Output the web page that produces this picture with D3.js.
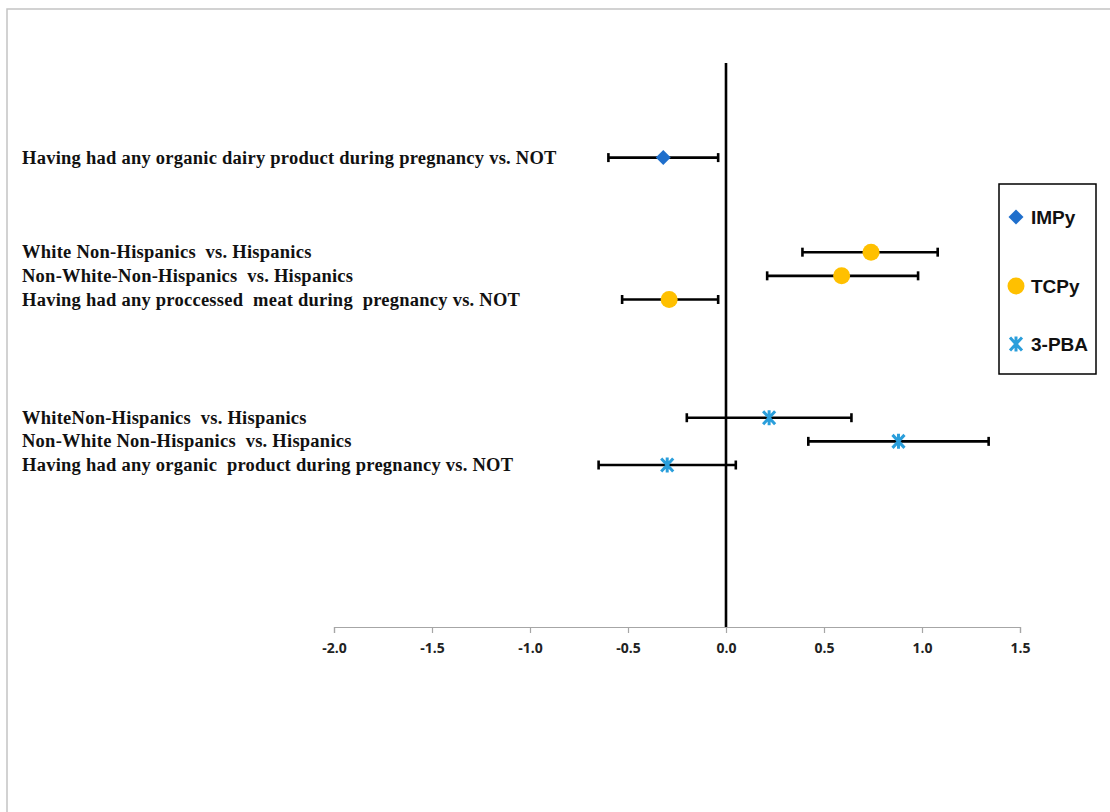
<!DOCTYPE html>
<html>
<head>
<meta charset="utf-8">
<script src="https://cdn.jsdelivr.net/npm/d3@7"></script>
<style>
  html, body { margin: 0; padding: 0; background: #fff; }
  svg { display: block; }
  .lbl { font-family: "Liberation Serif", "Times New Roman", serif; font-weight: bold; font-size: 18.5px; letter-spacing: 0.25px; white-space: pre; fill: #111; }
  .tick-lbl { font-family: "Open Sans", "Liberation Sans", sans-serif; font-weight: bold; font-size: 14px; fill: #222; }
  .leg { font-family: "Liberation Sans", Arial, sans-serif; font-weight: bold; font-size: 19px; fill: #111; }
</style>
</head>
<body>
<svg id="chart" width="1110" height="812"></svg>
<script>
// Data
const labels = [
  "Having had any organic dairy product during pregnancy vs. NOT",
  "White Non-Hispanics  vs. Hispanics",
  "Non-White-Non-Hispanics  vs. Hispanics",
  "Having had any proccessed  meat during  pregnancy vs. NOT",
  "WhiteNon-Hispanics  vs. Hispanics",
  "Non-White Non-Hispanics  vs. Hispanics",
  "Having had any organic  product during pregnancy vs. NOT"
];
const metabolite = ["IMPy", "TCPy", "TCPy", "TCPy", "3-PBA", "3-PBA", "3-PBA"];
const estimate = [-0.32, 0.74, 0.59, -0.29, 0.22, 0.88, -0.30];
const lower    = [-0.60, 0.39, 0.21, -0.53, -0.20, 0.42, -0.65];
const upper    = [-0.04, 1.08, 0.98, -0.04, 0.64, 1.34, 0.05];
const series = ["IMPy", "TCPy", "3-PBA"];
const xTicks = [-2.0, -1.5, -1.0, -0.5, 0.0, 0.5, 1.0, 1.5];

// layout: row slots (gaps between groups like the original)
const slot = [0, 4, 5, 6, 11, 12, 13];

const svg = d3.select("#chart");

// outer frame (left/top edges only visible)
svg.append("path")
    .attr("d", "M7,812 V9 H1110")
    .attr("fill", "none")
    .attr("stroke", "#c4c4c4")
    .attr("stroke-width", 1.5);

const x = d3.scaleLinear().domain([-2, 1.5]).range([334, 1020]);
const y = d3.scaleLinear().domain([-4, 19.85]).range([63, 627]);

const rows = labels.map((l, i) => ({
    label: l, m: metabolite[i], est: estimate[i], lo: lower[i], hi: upper[i], s: slot[i]
}));

const colors = { "IMPy": "#1f6fcc", "TCPy": "#ffc000", "3-PBA": "#2a9edb" };

// x axis
const axisG = svg.append("g").attr("transform", `translate(0,${y(19.85)})`);
axisG.call(d3.axisBottom(x).tickValues(xTicks).tickSize(6));
axisG.select(".domain").attr("stroke", "#a6a6a6").attr("stroke-width", 1.2);
axisG.selectAll(".tick line").attr("stroke", "#a6a6a6").attr("stroke-width", 1.2);
axisG.selectAll(".tick text")
    .attr("class", "tick-lbl")
    .attr("y", 16)
    .text(d => d.toFixed(1));

// zero line
svg.append("line")
    .attr("x1", x(0)).attr("x2", x(0))
    .attr("y1", y(-4)).attr("y2", y(19.85))
    .attr("stroke", "#000").attr("stroke-width", 2.6);

// error bars
const bars = svg.append("g").selectAll("g").data(rows).join("g");
bars.append("line")
    .attr("x1", d => x(d.lo)).attr("x2", d => x(d.hi))
    .attr("y1", d => y(d.s)).attr("y2", d => y(d.s))
    .attr("stroke", "#000").attr("stroke-width", 2.6);
[d => x(d.lo), d => x(d.hi)].forEach(fx => {
    bars.append("line")
        .attr("x1", fx).attr("x2", fx)
        .attr("y1", d => y(d.s) - 4.5).attr("y2", d => y(d.s) + 4.5)
        .attr("stroke", "#000").attr("stroke-width", 2.6);
});

// marker drawing
function drawMarker(g, m) {
    if (m === "IMPy") {
        g.append("path").attr("d", "M0,-7.5 L7.5,0 L0,7.5 L-7.5,0 Z").attr("fill", colors[m]);
    } else if (m === "TCPy") {
        g.append("circle").attr("r", 8.5).attr("fill", colors[m]);
    } else {
        g.append("path")
            .attr("d", "M-6,-6.5 L6,6.5 M6,-6.5 L-6,6.5 M0,-7.5 L0,7.5")
            .attr("stroke", colors[m]).attr("stroke-width", 3).attr("fill", "none");
    }
}

rows.forEach(d => {
    const g = svg.append("g").attr("transform", `translate(${x(d.est)},${y(d.s)})`);
    drawMarker(g, d.m);
});

// row labels
svg.append("g").selectAll("text").data(rows).join("text")
    .attr("class", "lbl")
    .attr("x", 22)
    .attr("y", d => y(d.s))
    .attr("dy", "0.33em")
    .text(d => d.label);

// legend
const leg = svg.append("g");
leg.append("rect")
    .attr("x", 999).attr("y", 184).attr("width", 97).attr("height", 190)
    .attr("fill", "#fff").attr("stroke", "#000").attr("stroke-width", 1.5);
const legY = [217, 286, 344];
series.forEach((s, i) => {
    const g = leg.append("g").attr("transform", `translate(1016,${legY[i]})`);
    drawMarker(g, s);
    leg.append("text").attr("class", "leg")
        .attr("x", 1031).attr("y", legY[i]).attr("dy", "0.36em").text(s);
});
</script>
</body>
</html>
